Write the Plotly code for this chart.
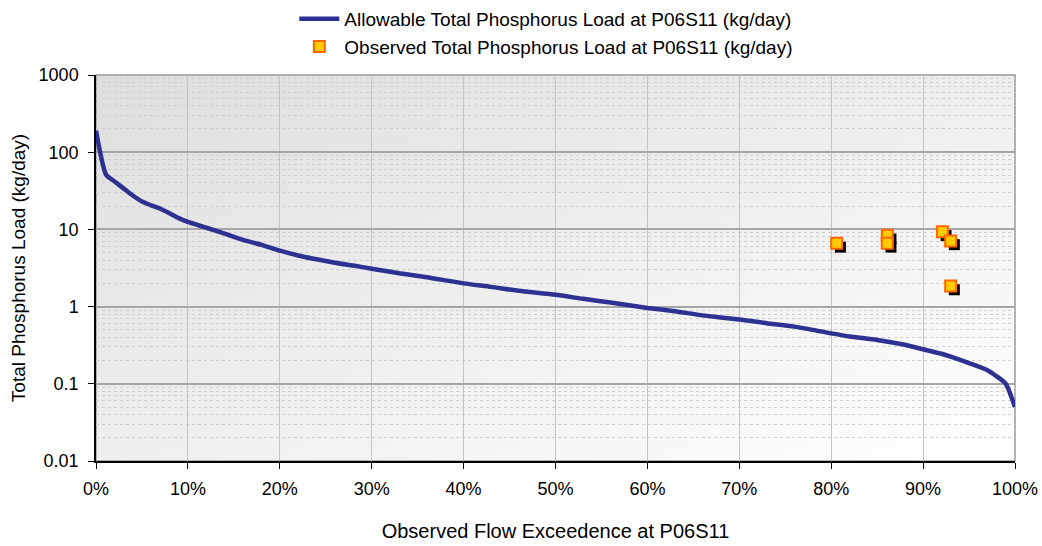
import base64
import plotly.graph_objects as go

# Allowable load curve (flow exceedence fraction, kg/day)
exceedence = [0.0, 0.011, 0.02, 0.03, 0.04, 0.05, 0.06, 0.07, 0.08, 0.09, 0.10,
              0.12, 0.14, 0.16, 0.18, 0.20, 0.22, 0.24, 0.26, 0.28, 0.30,
              0.33, 0.36, 0.40, 0.43, 0.46, 0.50, 0.53, 0.56, 0.60, 0.63,
              0.66, 0.70, 0.73, 0.76, 0.80, 0.82, 0.85, 0.88, 0.90, 0.92,
              0.93, 0.95, 0.97, 0.98, 0.99, 1.00]
allowable = [190, 51, 42, 34, 27.5, 23, 20.5, 18.5, 16.2, 14, 12.5,
             10.5, 8.8, 7.3, 6.3, 5.3, 4.6, 4.1, 3.7, 3.4, 3.1,
             2.7, 2.4, 2.0, 1.8, 1.6, 1.42, 1.26, 1.13, 0.96, 0.87,
             0.77, 0.68, 0.61, 0.55, 0.45, 0.41, 0.37, 0.32, 0.28, 0.245,
             0.225, 0.185, 0.15, 0.125, 0.1, 0.05]

# Observed loads
obs_exceedence = [0.806, 0.861, 0.861, 0.921, 0.930, 0.930]
obs_load = [6.6, 8.4, 6.6, 9.3, 7.1, 1.85]

y_ticks = [0.01, 0.1, 1, 10, 100, 1000]
y_tick_text = ["0.01", "0.1", "1", "10", "100", "1000"]
x_ticks = [i / 10 for i in range(11)]

FONT = "Liberation Sans, Arial, sans-serif"

svg = ('<svg xmlns="http://www.w3.org/2000/svg" width="100" height="100" preserveAspectRatio="none">'
       '<defs><linearGradient id="g" x1="0" y1="0" x2="1" y2="1">'
       '<stop offset="0" stop-color="#dedede"/><stop offset="1" stop-color="#ffffff"/>'
       '</linearGradient></defs><rect width="100" height="100" fill="url(#g)"/></svg>')
bg_uri = "data:image/svg+xml;base64," + base64.b64encode(svg.encode()).decode()

fig = go.Figure()

fig.add_trace(go.Scatter(
    x=exceedence, y=allowable, mode="lines",
    name="Allowable Total Phosphorus Load at P06S11 (kg/day)",
    line=dict(color="#2e3192", width=4.5, shape="spline", smoothing=0.6),
))

# shadow for observed markers (offset a few pixels right/down)
fig.add_trace(go.Scatter(
    x=[v + 0.004 for v in obs_exceedence], y=[v / 1.12 for v in obs_load],
    mode="markers", showlegend=False, hoverinfo="skip",
    marker=dict(symbol="square", size=11, color="#000000", line=dict(width=0)),
))
fig.add_trace(go.Scatter(
    x=obs_exceedence, y=obs_load, mode="markers",
    name="Observed Total Phosphorus Load at P06S11 (kg/day)",
    marker=dict(symbol="square", size=11, color="#ffcc00",
                line=dict(color="#ff6600", width=2)),
))

fig.update_layout(
    width=1042, height=546,
    margin=dict(l=96, r=27, t=75, b=85, autoexpand=False),
    paper_bgcolor="white",
    plot_bgcolor="rgba(0,0,0,0)",
    font=dict(family=FONT, size=18, color="#000000"),
    showlegend=True,
    legend=dict(x=0.49, xanchor="center", y=1.0, yref="container", yanchor="top",
                orientation="v", font=dict(size=19), bgcolor="rgba(0,0,0,0)",
                tracegroupgap=0, itemwidth=40),
    images=[dict(source=bg_uri, xref="paper", yref="paper", x=0, y=1,
                 sizex=1, sizey=1, sizing="stretch", layer="below",
                 xanchor="left", yanchor="top")],
    shapes=[dict(type="rect", xref="paper", yref="paper", x0=0, y0=0, x1=1, y1=1,
                 line=dict(color="#999999", width=1.5), layer="below")],
)

fig.update_xaxes(
    range=[0, 1], tickvals=x_ticks, tickformat=".0%",
    showgrid=True, gridcolor="#c4c4c4", gridwidth=1,
    showline=True, linecolor="#000000", linewidth=1.5,
    ticks="outside", ticklen=6, tickcolor="#000000",
    zeroline=False, tickfont=dict(size=18), ticklabelstandoff=5,
    automargin=False,
    title=dict(text="Observed Flow Exceedence at P06S11", font=dict(size=20), standoff=26),
)
fig.update_yaxes(
    type="log", range=[-2, 3], tickvals=y_ticks, ticktext=y_tick_text,
    showgrid=True, gridcolor="#a6a6a6", gridwidth=1.5,
    showline=True, linecolor="#000000", linewidth=1.5,
    ticks="outside", ticklen=6, tickcolor="#000000",
    zeroline=False, tickfont=dict(size=18), ticklabelstandoff=6,
    automargin=False,
    minor=dict(dtick="D1", showgrid=True, gridcolor="#cfcfcf", griddash="dot",
               gridwidth=1, ticks=""),
    title=dict(text="Total Phosphorus Load (kg/day)", font=dict(size=19), standoff=8),
)

fig.write_html("out.html", config={"displayModeBar": False},
               post_script="document.body.style.margin='0';")
